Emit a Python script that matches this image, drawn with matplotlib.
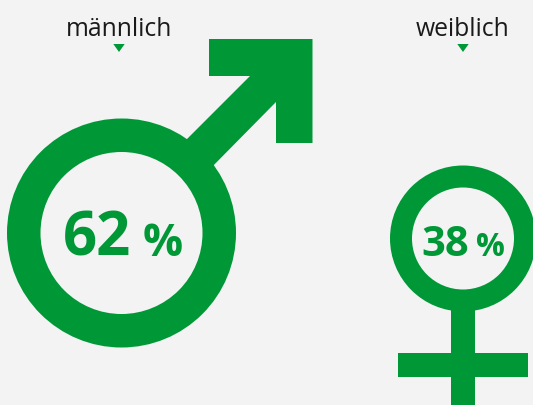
import matplotlib
matplotlib.use("Agg")
import matplotlib.pyplot as plt
from matplotlib.patches import Circle, Polygon, Rectangle

GREEN = "#009837"
BG = "#F3F3F3"
FONT = "Open Sans"

labels = ["männlich", "weiblich"]
shares = [62, 38]

fig = plt.figure(figsize=(5.33, 4.05), dpi=100, facecolor=BG)
ax = fig.add_axes([0, 0, 1, 1])
ax.set_xlim(0, 533)
ax.set_ylim(405, 0)
ax.axis("off")


def ring(cx, cy, r_out, r_in):
    ax.add_patch(Circle((cx, cy), r_out, fc=GREEN, ec="none", zorder=2))
    ax.add_patch(Circle((cx, cy), r_in, fc=BG, ec="none", zorder=3))


# male symbol: arrow first, ring on top
ax.add_patch(Polygon([(209, 39), (312.5, 39), (312.5, 143), (276, 143), (276, 102), (205, 174),
                      (180, 146), (250, 76), (209, 76)], fc=GREEN, ec="none", zorder=1))
ring(121.5, 233, 114.5, 81)

# female symbol
ax.add_patch(Rectangle((451, 300), 24, 105, fc=GREEN, ec="none", zorder=1))
ax.add_patch(Rectangle((398, 353), 129.5, 24, fc=GREEN, ec="none", zorder=1))
ring(463, 238.5, 73, 51)

# labels with small pointer triangles
for name, x in zip(labels, [119, 463]):
    ax.text(x, 36, name, ha="center", va="baseline", fontsize=17.8, color="#1a1a1a", family=FONT)
    ax.add_patch(Polygon([(x - 5.7, 44), (x + 5.7, 44), (x, 52)], fc=GREEN, ec="none"))

# percentages, number and sign are set apart at different sizes
ax.text(131.5, 256, str(shares[0]), ha="right", va="baseline", fontsize=43, fontweight="bold",
        color=GREEN, family=FONT, zorder=4)
ax.text(143, 256, "%", ha="left", va="baseline", fontsize=32, fontweight="bold",
        color=GREEN, family=FONT, zorder=4)
ax.text(469.5, 256, str(shares[1]), ha="right", va="baseline", fontsize=30, fontweight="bold",
        color=GREEN, family=FONT, zorder=4)
ax.text(476, 256, "%", ha="left", va="baseline", fontsize=23, fontweight="bold",
        color=GREEN, family=FONT, zorder=4)

fig.savefig("out.png", dpi=100, facecolor=BG)
